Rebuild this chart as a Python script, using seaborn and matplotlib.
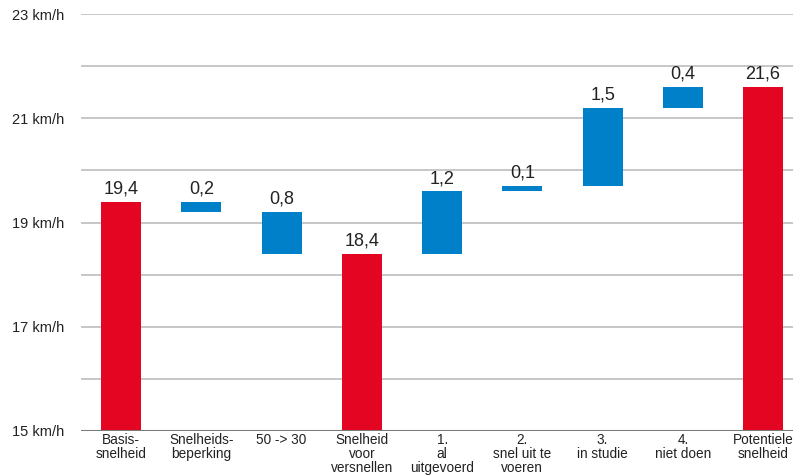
import numpy as np
import pandas as pd
import matplotlib
matplotlib.use("Agg")
import matplotlib.pyplot as plt
import seaborn as sns

# ---- data ----
categories = ["Basis-\nsnelheid", "Snelheids-\nbeperking", "50 -> 30",
              "Snelheid\nvoor\nversnellen", "1.\nal\nuitgevoerd",
              "2.\nsnel uit te\nvoeren", "3.\nin studie", "4.\nniet doen",
              "Potentiele\nsnelheid"]
kinds = ["total", "delta", "delta", "total", "delta", "delta", "delta", "delta", "total"]
values = [19.4, -0.2, -0.8, 18.4, 1.2, 0.1, 1.5, 0.4, 21.6]
y_ticks = [15, 17, 19, 21, 23]
y_tick_labels = ["15 km/h", "17 km/h", "19 km/h", "21 km/h", "23 km/h"]

RED = "#E30521"
BLUE = "#0080C8"

# waterfall geometry
bottoms, heights, labels, colors = [], [], [], []
level = 0.0
for k, v in zip(kinds, values):
    if k == "total":
        bottoms.append(0.0)
        heights.append(v)
        level = v
        labels.append(f"{v:.1f}".replace(".", ","))
        colors.append(RED)
    else:
        lo = min(level, level + v)
        bottoms.append(lo)
        heights.append(abs(v))
        level = level + v
        labels.append(f"{abs(v):.1f}".replace(".", ","))
        colors.append(BLUE)

df = pd.DataFrame({"cat": categories, "height": heights})

sns.set_theme(style="white")
plt.rcParams["font.family"] = ["Liberation Sans", "DejaVu Sans"]

fig = plt.figure(figsize=(7.93, 4.75), dpi=100)
ax = fig.add_axes([81 / 793, 44 / 475, (793 - 81) / 793, (461 - 44) / 475])

sns.barplot(data=df, x="cat", y="height", order=categories, ax=ax,
            width=0.5, bottom=np.array(bottoms), color=RED,
            edgecolor="none", linewidth=0, errorbar=None, zorder=3)
for patch, c in zip(ax.patches, colors):
    patch.set_facecolor(c)

ax.set_ylim(15, 23)
ax.set_xlim(-0.5, -0.5 + (793 - 81) / 80.25)

# gridlines every 1
for yv in range(16, 24):
    ax.axhline(yv, color="#BDBDBD", linewidth=1.2, zorder=1)
ax.axhline(15, color="#7A7A7A", linewidth=2.2, zorder=4)

for s in ax.spines.values():
    s.set_visible(False)

ax.set_yticks(y_ticks)
ax.set_yticklabels(y_tick_labels, fontsize=10.5, color="#222222")
ax.tick_params(axis="y", length=0, pad=12)
ax.tick_params(axis="x", length=0, pad=1.5)
ax.set_xticks(range(len(categories)))
ax.set_xticklabels(categories, fontsize=9.8, color="#222222", linespacing=0.98)
ax.set_xlabel("")
ax.set_ylabel("")

for i, (b, h, lab) in enumerate(zip(bottoms, heights, labels)):
    ax.annotate(lab, (i, b + h), xytext=(0, 3), textcoords="offset points",
                ha="center", va="bottom", fontsize=13, color="#222222", zorder=5)

fig.savefig("out.png", dpi=100)
